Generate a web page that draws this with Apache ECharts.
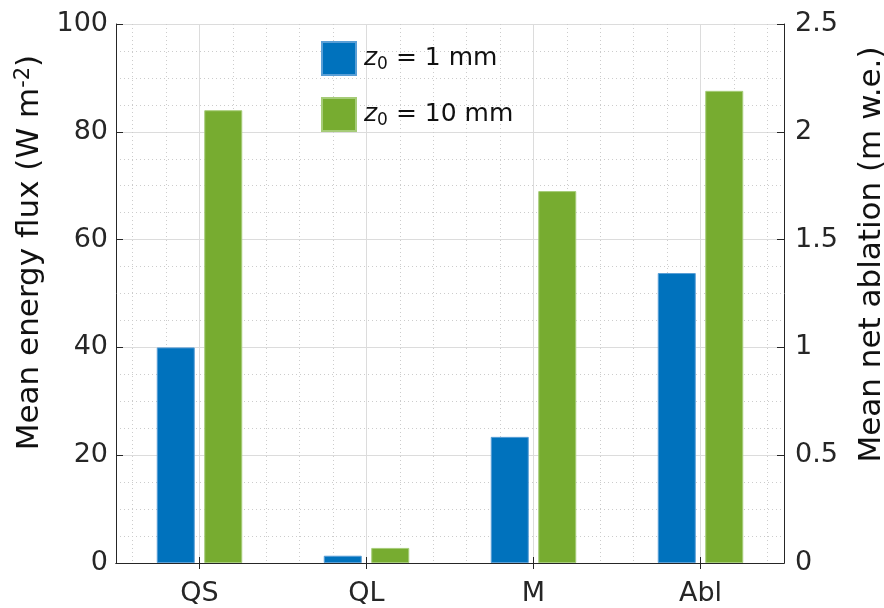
<!DOCTYPE html>
<html><head><meta charset="utf-8">
<script src="https://cdn.jsdelivr.net/npm/echarts@6/dist/echarts.min.js"></script>
<style>html,body{margin:0;padding:0;background:#fff}#c{width:884px;height:608px}</style>
</head><body><div id="c"></div>
<script>
// ---- data ----
const categories = ['QS', 'QL', 'M', 'Abl'];
const seriesNames = ['z0 = 1 mm', 'z0 = 10 mm'];
const flux1mm = [40.0, 1.35, 23.4];      // W m-2 (QS, QL, M)
const flux10mm = [84.0, 2.8, 69.0];      // W m-2
const ablation1mm = 1.345;               // m w.e. (Abl, right axis)
const ablation10mm = 2.19;               // m w.e.
const leftTicks = [0, 20, 40, 60, 80, 100];
const rightTicks = [0, 0.5, 1, 1.5, 2, 2.5];

const FONT = 'DejaVu Sans';
const AX = '#262626';
const LMAX = leftTicks[leftTicks.length - 1], RMAX = rightTicks[rightTicks.length - 1];
const toLeft = v => v * LMAX / RMAX;
const data1 = flux1mm.concat([toLeft(ablation1mm)]);
const data10 = flux10mm.concat([toLeft(ablation10mm)]);
// helper positions for the vertical grid (tenths of a category)
const gridSlots = Array.from({length: 41}, (_, i) => String(i));

const chart = echarts.init(document.getElementById('c'), null, {renderer: 'canvas'});
chart.setOption({
  animation: false,
  textStyle: {fontFamily: FONT},
  grid: {left: 116, right: 100, top: 24, bottom: 45, containLabel: false, outerBoundsMode: 'none'},
  legend: {
    data: seriesNames, orient: 'vertical', left: 316, top: 36,
    itemWidth: 34, itemHeight: 33, itemGap: 21, icon: 'rect',
    formatter: n => n.replace('z0', '{i|z}{sub|0}'),
    textStyle: {fontSize: 25, color: '#111', fontFamily: FONT, padding: [0, 0, 0, 3],
      rich: {i: {fontStyle: 'italic', fontSize: 25, fontFamily: FONT},
             sub: {fontSize: 17, fontFamily: FONT, padding: [12, 0, 0, 0]}}}
  },
  xAxis: [
    {type: 'category', data: categories, position: 'bottom',
     axisLine: {show: true, lineStyle: {color: AX, width: 1}},
     axisTick: {show: true, inside: true, alignWithLabel: true, length: 6, lineStyle: {color: AX}},
     axisLabel: {fontSize: 27, color: AX, margin: 17, fontFamily: FONT},
     splitLine: {show: false}},
    {type: 'category', data: gridSlots, boundaryGap: false, position: 'top',
     axisLine: {show: true, lineStyle: {color: AX, width: 1}},
     axisTick: {show: true, inside: true, length: 6, interval: (i) => i % 10 === 5, lineStyle: {color: AX}},
     axisLabel: {show: false},
     splitLine: {show: true, interval: (i) => i % 10 === 5, lineStyle: {color: '#dcdcdc', width: 1}}},
    {type: 'category', data: gridSlots, boundaryGap: false, position: 'bottom',
     axisLine: {show: false}, axisTick: {show: false}, axisLabel: {show: false},
     splitLine: {show: true, interval: (i) => i % 2 === 1 && i % 10 !== 5,
       lineStyle: {color: '#cccccc', width: 1, type: [1, 3]}}}
  ],
  yAxis: [
    {type: 'value', min: leftTicks[0], max: LMAX, interval: leftTicks[1] - leftTicks[0], position: 'left',
     axisLine: {show: true, lineStyle: {color: AX, width: 1}},
     axisTick: {show: true, inside: true, length: 7, lineStyle: {color: AX}},
     axisLabel: {fontSize: 27, color: AX, margin: 8, fontFamily: FONT},
     splitLine: {show: true, lineStyle: {color: '#dcdcdc', width: 1}},
     minorTick: {show: false, splitNumber: 4},
     minorSplitLine: {show: true, lineStyle: {color: '#cccccc', width: 1, type: [1, 3]}},
     name: 'Mean energy flux (W m{sup|-2})', nameLocation: 'middle', nameGap: 59, nameRotate: 90,
     nameTextStyle: {fontSize: 31, color: '#111', fontFamily: FONT, padding: [0, 0, 0, 82],
       rich: {sup: {fontSize: 21, fontFamily: FONT, padding: [0, 0, 14, 0]}}}},
    {type: 'value', min: rightTicks[0], max: RMAX, interval: rightTicks[1] - rightTicks[0], position: 'right',
     axisLine: {show: true, lineStyle: {color: AX, width: 1}},
     axisTick: {show: true, inside: true, length: 7, lineStyle: {color: AX}},
     axisLabel: {fontSize: 27, color: AX, margin: 11, fontFamily: FONT},
     splitLine: {show: false},
     name: 'Mean net ablation (m w.e.)', nameLocation: 'middle', nameGap: 72, nameRotate: 90,
     nameTextStyle: {fontSize: 31, color: '#111', fontFamily: FONT, padding: [0, 0, 0, 78]}}
  ],
  series: [
    {name: seriesNames[0], type: 'bar', xAxisIndex: 0, yAxisIndex: 0, data: data1,
     barWidth: 38, barGap: '25%', z: 5,
     itemStyle: {color: '#0072BD', borderColor: '#5a9fd6', borderWidth: 1}},
    {name: seriesNames[1], type: 'bar', xAxisIndex: 0, yAxisIndex: 0, data: data10,
     barWidth: 38, barGap: '25%', z: 5,
     itemStyle: {color: '#77AC30', borderColor: '#a6cc78', borderWidth: 1}}
  ]
});
</script></body></html>
